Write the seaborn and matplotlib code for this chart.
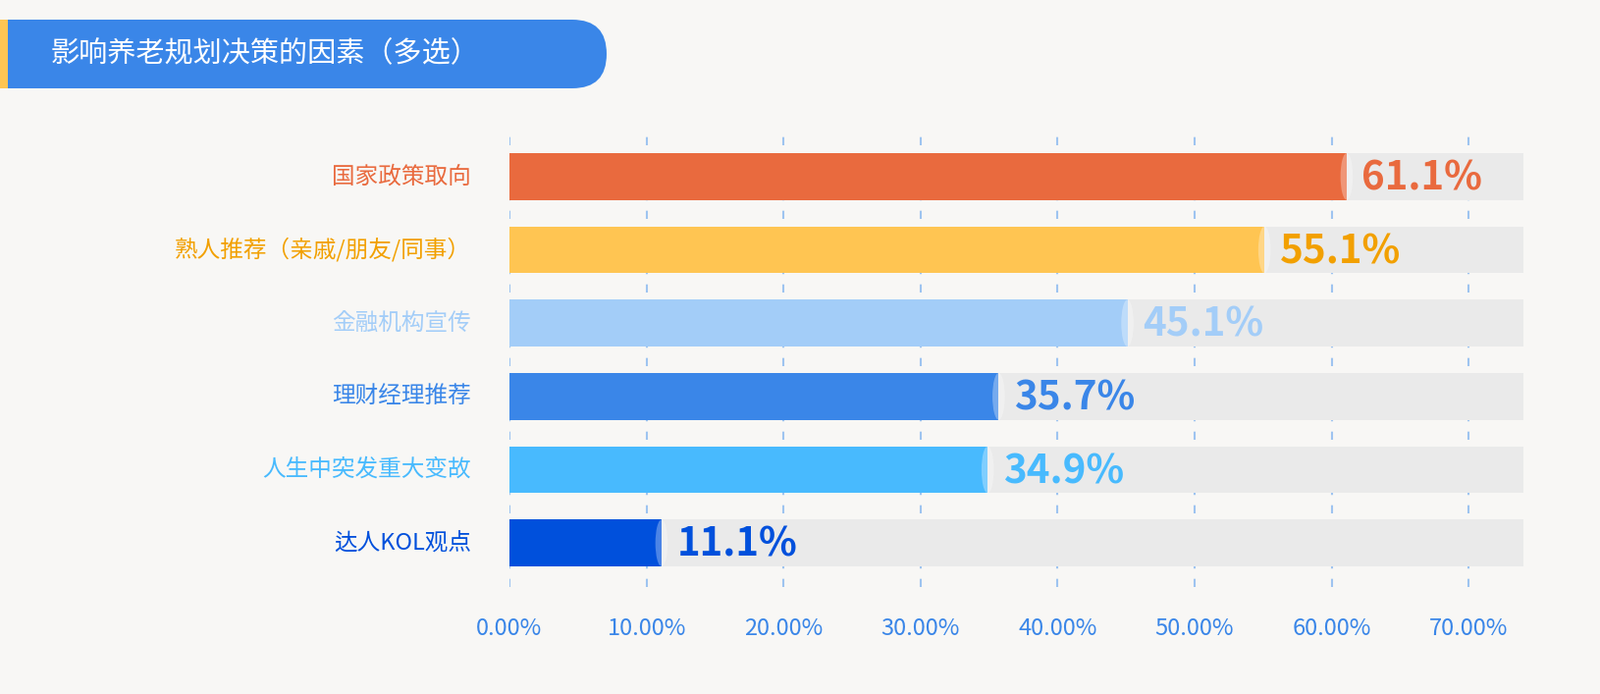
import matplotlib
matplotlib.use("Agg")
import matplotlib.pyplot as plt
import seaborn as sns
import pandas as pd
from matplotlib.patches import Ellipse, FancyBboxPatch, Rectangle

plt.rcParams["font.family"] = ["Noto Sans CJK SC", "Noto Sans CJK JP", "Noto Sans CJK TC", "DejaVu Sans"]
plt.rcParams["axes.unicode_minus"] = False

categories = ["国家政策取向", "熟人推荐（亲戚/朋友/同事）", "金融机构宣传", "理财经理推荐", "人生中突发重大变故", "达人KOL观点"]
values = [0.611, 0.551, 0.451, 0.357, 0.349, 0.111]
labels = ["61.1%", "55.1%", "45.1%", "35.7%", "34.9%", "11.1%"]
colors = ["#E96A3E", "#FFC552", "#A3CDF8", "#3A86E8", "#48BAFE", "#0050DC"]
label_colors = ["#E96A3E", "#F2A000", "#A3CDF8", "#3A86E8", "#48BAFE", "#0050DC"]
ticks = [0, 0.1, 0.2, 0.3, 0.4, 0.5, 0.6, 0.7]
tick_labels = ["0.00%", "10.00%", "20.00%", "30.00%", "40.00%", "50.00%", "60.00%", "70.00%"]
title = "影响养老规划决策的因素（多选）"
bg_max = 0.74

W, H = 1630, 707
fig = plt.figure(figsize=(W/100, H/100), dpi=100)
fig.patch.set_facecolor("#F8F7F5")
ax = fig.add_axes([519/W, (H-598)/H, (1552-519)/W, (598-135)/H])
ax.set_facecolor("none")

df = pd.DataFrame({"cat": categories, "val": values, "bg": [bg_max]*6})
sns.barplot(data=df, y="cat", x="bg", color="#EAEAEA", saturation=1, width=0.64, ax=ax, orient="h")
sns.barplot(data=df, y="cat", x="val", hue="cat", palette=colors, saturation=1, width=0.64, ax=ax,
            orient="h", legend=False)
for p in ax.patches:
    p.set_linewidth(0)

ax.set_xlim(0, bg_max)
ax.set_ylim(5.6, -0.6)
for t in ticks:
    ax.axvline(t, color="#9EC4F0", lw=1.5, ls=(0, (4, 5)), zorder=0.5)
for i, (v, lab, c, lc) in enumerate(zip(values, labels, colors, label_colors)):
    ax.add_patch(Ellipse((v, i), 0.009, 0.64, color="white", alpha=0.3, lw=0, zorder=3))
    ax.text(v + 0.011, i + 0.03, lab, color=lc, fontsize=29, fontweight="bold",
            va="center", ha="left")
    ax.text(-0.028, i, categories[i], color=lc, fontsize=17, va="center", ha="right")

ax.set_yticks([])
ax.set_ylabel("")
ax.set_xlabel("")
ax.set_xticks(ticks)
ax.set_xticklabels(tick_labels, color="#3A86E8", fontsize=17)
ax.tick_params(axis="x", length=0, pad=22)
for s in ax.spines.values():
    s.set_visible(False)

# title banner (pixel coordinates)
fig.patches.append(FancyBboxPatch((-50, H-90), 668, 70, boxstyle="round,pad=0,rounding_size=35",
                                  transform=None, facecolor="#3A86E8", lw=0))
fig.patches.append(Rectangle((0, H-90), 8, 70, transform=None, facecolor="#FFC552", lw=0))
fig.text(52/W, (H-55)/H, title, color="white", fontsize=21, va="center", ha="left")

fig.savefig("out.png", dpi=100, facecolor=fig.get_facecolor())
